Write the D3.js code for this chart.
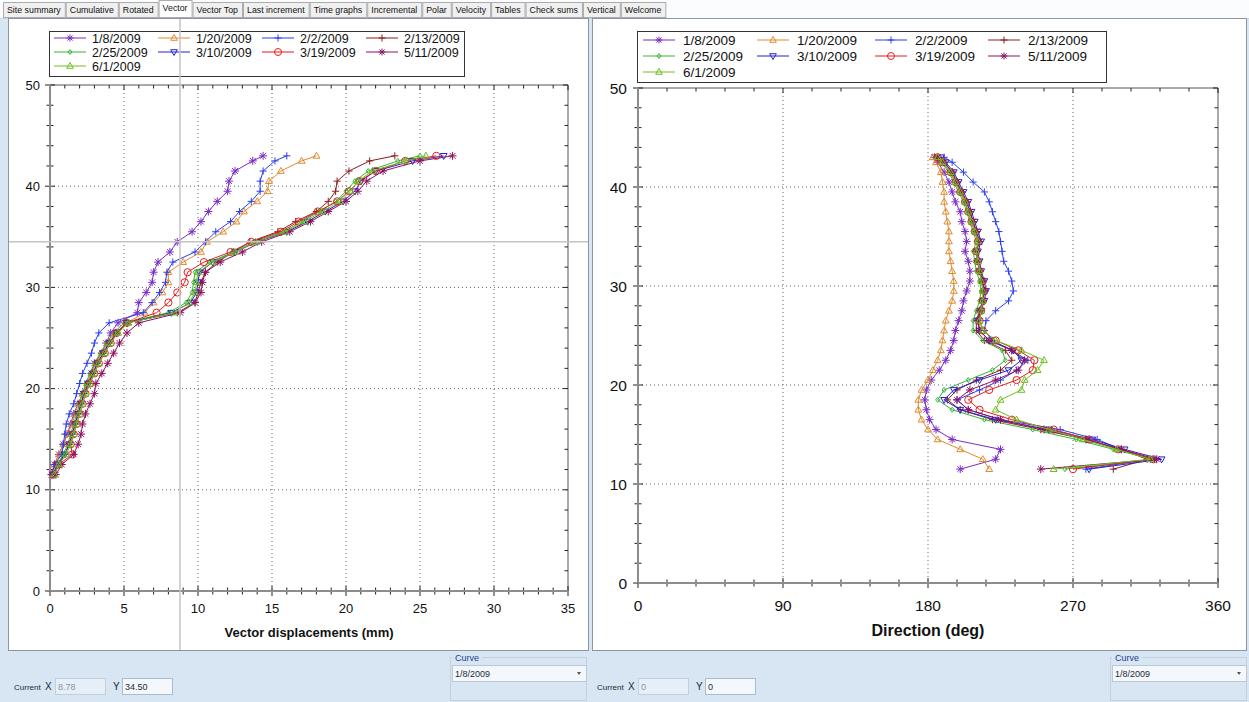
<!DOCTYPE html>
<html><head><meta charset="utf-8">
<script src="https://cdn.jsdelivr.net/npm/d3@7"></script>
<style>
body{margin:0;background:#d8e5f2;}
svg{display:block;font-family:"Liberation Sans",Arial,sans-serif;}
</style>
</head><body>
<svg id="c" width="1249" height="702"></svg>
<script>
// ---------------- DATA ----------------
const tabLabels = ["Site summary","Cumulative","Rotated","Vector","Vector Top","Last increment","Time graphs","Incremental","Polar","Velocity","Tables","Check sums","Vertical","Welcome"];
const activeTab = "Vector";
const seriesNames = ["1/8/2009","1/20/2009","2/2/2009","2/13/2009","2/25/2009","3/10/2009","3/19/2009","5/11/2009","6/1/2009"];
const seriesColors = ["#7b2cc4","#e2892c","#2b3ff0","#8b1e1e","#33b533","#2222d0","#e81c1c","#8e1262","#6cbf1c"];
const seriesMarkers = ["asterisk","triUp","plus","plus","diamond","triDown","circle","asterisk","triUp"];
const depths = [11.5,12.5,13.5,14.5,15.5,16.5,17.5,18.5,19.5,20.5,21.5,22.5,23.5,24.5,25.5,26.5,27.5,28.5,29.5,30.5,31.5,32.5,33.5,34.5,35.5,36.5,37.5,38.5,39.5,40.5,41.5,42.5,43];

// vector displacements (mm)
const disp_0108 = [0.1,0.3,0.6,0.9,1.15,1.4,1.6,1.9,2.2,2.5,2.8,3.0,3.5,3.8,4.1,4.6,5.9,6.0,6.5,6.9,7.0,7.3,8.1,8.6,9.6,10.2,10.7,11.3,12.0,12.1,12.5,13.7,14.4];
const disp_0120 = [0.2,0.3,0.6,0.9,1.2,1.5,1.7,1.9,2.2,2.5,2.8,3.1,3.5,3.9,4.4,5.2,6.4,7.0,7.6,8.0,8.0,9.0,10.2,10.6,11.7,12.6,13.1,14.0,14.7,14.8,15.6,17.0,18.0];
const disp_0202 = [0.1,0.3,0.8,0.9,1.0,1.1,1.3,1.6,1.8,2.0,2.2,2.5,2.8,3.0,3.3,4.0,6.3,6.9,7.4,7.8,7.9,8.3,9.8,10.5,11.2,12.2,12.8,13.6,14.2,14.2,14.4,15.2,16.0];
const disp_0213 = [0.3,0.6,1.0,1.3,1.5,1.7,1.9,2.1,2.3,2.6,2.9,3.2,3.6,4.0,4.5,5.2,8.6,9.8,10.0,10.2,10.5,11.3,12.4,13.5,15.4,16.6,18.0,18.8,19.3,19.4,20.2,21.6,23.3];
const disp_0225 = [0.2,0.5,0.9,1.2,1.4,1.6,1.8,2.0,2.2,2.4,2.7,3.0,3.4,3.8,4.3,5.0,8.0,9.2,9.6,9.7,9.8,10.8,12.4,13.8,15.8,17.0,18.2,19.3,20.0,20.6,21.5,23.5,25.0];
const disp_0310 = [0.2,0.5,1.0,1.3,1.5,1.7,1.9,2.1,2.3,2.6,2.9,3.2,3.6,4.0,4.5,5.2,8.2,9.5,9.9,10.0,10.1,11.0,12.5,14.0,16.0,17.4,18.6,19.8,20.6,21.0,22.0,24.5,26.6];
const disp_0319 = [0.2,0.6,1.5,1.4,1.6,1.8,2.0,2.2,2.4,2.7,3.0,3.3,3.7,4.1,4.5,5.2,7.2,8.0,8.6,9.1,9.3,10.4,12.2,13.6,15.6,16.8,18.1,19.4,20.2,20.9,22.0,24.0,26.1];
const disp_0511 = [0.4,0.8,1.6,1.9,2.1,2.2,2.4,2.7,3.0,3.1,3.5,3.9,4.3,4.7,5.2,6.0,8.8,9.8,10.2,10.3,10.5,11.5,13.0,14.3,16.2,17.6,18.8,20.0,20.8,21.4,22.5,25.0,27.2];
const disp_0601 = [0.3,0.6,1.1,1.4,1.6,1.8,2.0,2.2,2.4,2.7,3.0,3.3,3.7,4.1,4.6,5.3,8.4,9.4,9.8,9.9,10.0,11.0,12.5,13.9,15.9,17.2,18.4,19.6,20.3,20.8,21.8,24.0,25.4];

// direction (deg)
const dir_0108 = [200,222,225,195,185,181,179,178,179,182,187,191,194,196,197,199,201,202,204,206,206,205,203,204,203,201,200,197,195,193,190,186,184];
const dir_0120 = [218,214,200,186,180,176,174,174,176,180,183,186,188,189,190,191,193,195,196,196,195,194,193,193,193,192,191,190,190,189,188,185,183];
const dir_0202 = [278,318,300,285,262,225,205,198,212,225,235,242,232,220,215,216,222,230,233,232,230,227,226,225,224,222,220,218,215,208,202,195,190];
const dir_0213 = [295,316,300,278,250,220,200,192,198,210,225,232,228,215,210,210,212,214,215,214,212,211,210,212,210,208,206,204,201,198,195,190,186];
const dir_0225 = [265,320,295,272,245,215,195,186,190,205,220,228,226,214,208,208,210,212,213,212,210,209,208,210,208,206,204,202,199,196,193,188,185];
const dir_0310 = [280,325,302,282,255,222,200,190,196,212,230,238,233,218,212,211,213,215,216,215,213,212,211,213,211,209,207,205,202,199,196,191,188];
const dir_0319 = [270,320,298,280,258,232,212,205,218,235,245,246,236,222,214,212,213,214,215,214,212,211,210,211,209,207,205,203,200,197,194,189,186];
const dir_0511 = [250,322,300,278,252,225,205,198,206,222,236,240,232,218,212,211,212,214,215,214,212,211,210,212,210,208,206,204,201,198,195,190,186];
const dir_0601 = [258,318,297,276,255,235,222,225,238,240,248,252,238,222,214,212,213,214,214,213,212,211,210,211,209,207,205,203,200,197,194,189,186];

const dispSeries = [disp_0108,disp_0120,disp_0202,disp_0213,disp_0225,disp_0310,disp_0319,disp_0511,disp_0601];
const dirSeries  = [dir_0108,dir_0120,dir_0202,dir_0213,dir_0225,dir_0310,dir_0319,dir_0511,dir_0601];

const dispTicks = [0,5,10,15,20,25,30,35];
const dirTicks = [0,90,180,270,360];
const depthTicks = [0,10,20,30,40,50];
const cursorLeft = {x: 8.78, y: 34.50};
const cursorRight = {x: 0, y: 0};
const curveSelected = "1/8/2009";

// ---------------- DRAW ----------------
const svg = d3.select("#c");
const W = 1249, H = 702;
svg.append("rect").attr("width",W).attr("height",H).attr("fill","#d8e5f2");

// tab strip
svg.append("rect").attr("x",0).attr("y",0).attr("width",W).attr("height",18).attr("fill","#fbfcfe");
const tabG = svg.append("g");
let tx = 3;
tabLabels.forEach(lbl => {
  const t = tabG.append("text").attr("font-size",8.8).attr("fill","#111").text(lbl);
  const w = t.node().getComputedTextLength() + 8;
  const act = lbl === activeTab;
  tabG.insert("rect","text").attr("x",tx+0.5).attr("y",act?0.5:2.5).attr("width",w).attr("height",act?17:15)
    .attr("fill",act?"#ffffff":"#f0f0f0").attr("stroke","#acacac");
  t.attr("x",tx+4).attr("y",act?11:13);
  tx += w + 1;
});
svg.append("line").attr("x1",0).attr("x2",W).attr("y1",18.5).attr("y2",18.5).attr("stroke","#c8d4e0");

// panels
svg.append("rect").attr("x",8.5).attr("y",18.5).attr("width",580).attr("height",632).attr("fill","#fff").attr("stroke","#8a96a3");
svg.append("rect").attr("x",592.5).attr("y",18.5).attr("width",654).attr("height",632).attr("fill","#fff").attr("stroke","#8a96a3");

function marker(type, r){
  const k = r*0.72;
  switch(type){
    case "asterisk": return `M${-r},0L${r},0M0,${-r}L0,${r}M${-k},${-k}L${k},${k}M${-k},${k}L${k},${-k}`;
    case "plus": return `M${-r},0L${r},0M0,${-r}L0,${r}`;
    case "triUp": return `M0,${-r}L${r*0.95},${r*0.65}L${-r*0.95},${r*0.65}Z`;
    case "triDown": return `M0,${r}L${r*0.95},${-r*0.65}L${-r*0.95},${-r*0.65}Z`;
    case "diamond": return `M0,${-r*0.7}L${r*0.55},0L0,${r*0.7}L${-r*0.55},0Z`;
    case "circle": return `M${r},0A${r},${r} 0 1,1 ${-r},0A${r},${r} 0 1,1 ${r},0Z`;
  }
}

function drawChart(cfg){
  const g = svg.append("g");
  const x = d3.scaleLinear().domain(cfg.xDomain).range([cfg.left, cfg.right]);
  const y = d3.scaleLinear().domain([0,50]).range([cfg.bottom, cfg.top]);
  // grid
  cfg.xTicks.slice(1,-1).forEach(v => g.append("line").attr("x1",x(v)).attr("x2",x(v)).attr("y1",cfg.top).attr("y2",cfg.bottom)
    .attr("stroke","#666").attr("stroke-dasharray","1,3"));
  depthTicks.slice(1,-1).forEach(v => g.append("line").attr("y1",y(v)).attr("y2",y(v)).attr("x1",cfg.left).attr("x2",cfg.right)
    .attr("stroke","#666").attr("stroke-dasharray","1,3"));
  // frame
  g.append("line").attr("x1",cfg.left).attr("x2",cfg.right).attr("y1",cfg.top).attr("y2",cfg.top).attr("stroke","#555");
  g.append("line").attr("x1",cfg.right).attr("x2",cfg.right).attr("y1",cfg.top).attr("y2",cfg.bottom).attr("stroke","#555");
  // minor + major ticks
  const xMinor = d3.range(cfg.xDomain[0], cfg.xDomain[1]+1e-9, cfg.xMinorStep);
  const yMinor = d3.range(0, 50+1e-9, 2);
  xMinor.forEach(v => {
    const maj = cfg.xTicks.some(t => Math.abs(t-v)<1e-6);
    const L = maj?5:3.5;
    g.append("line").attr("x1",x(v)).attr("x2",x(v)).attr("y1",cfg.bottom-L).attr("y2",cfg.bottom+L).attr("stroke","#222");
    g.append("line").attr("x1",x(v)).attr("x2",x(v)).attr("y1",cfg.top).attr("y2",cfg.top+L).attr("stroke","#222");
  });
  yMinor.forEach(v => {
    const maj = depthTicks.includes(v);
    const L = maj?5:3.5;
    g.append("line").attr("y1",y(v)).attr("y2",y(v)).attr("x1",cfg.left-L).attr("x2",cfg.left+L).attr("stroke","#222");
    g.append("line").attr("y1",y(v)).attr("y2",y(v)).attr("x1",cfg.right-L).attr("x2",cfg.right).attr("stroke","#222");
  });
  // axis lines
  g.append("line").attr("x1",cfg.left).attr("x2",cfg.right).attr("y1",cfg.bottom).attr("y2",cfg.bottom).attr("stroke","#8c8c8c").attr("stroke-width",2);
  g.append("line").attr("x1",cfg.left).attr("x2",cfg.left).attr("y1",cfg.top).attr("y2",cfg.bottom).attr("stroke","#8c8c8c").attr("stroke-width",2);
  // tick labels
  cfg.xTicks.forEach(v => g.append("text").attr("x",x(v)).attr("y",cfg.bottom+cfg.xLabelDy).attr("text-anchor","middle")
    .attr("font-size",cfg.tickFont).attr("fill","#111").text(v));
  depthTicks.forEach(v => g.append("text").attr("x",cfg.left-cfg.yLabelDx).attr("y",y(v)+cfg.tickFont*0.36).attr("text-anchor","end")
    .attr("font-size",cfg.tickFont).attr("fill","#111").text(v));
  g.append("text").attr("x",(cfg.left+cfg.right)/2).attr("y",cfg.titleY).attr("text-anchor","middle")
    .attr("font-size",cfg.titleFont).attr("font-weight","bold").attr("fill","#111").text(cfg.title);
  // series
  const line = d3.line().x(d=>x(d[0])).y(d=>y(d[1]));
  cfg.series.forEach((vals,i) => {
    const pts = vals.map((v,j)=>[v,depths[j]]);
    const sg = g.append("g");
    sg.append("path").attr("d",line(pts)).attr("fill","none").attr("stroke",seriesColors[i]).attr("stroke-width",1);
    sg.selectAll("path.m").data(pts).join("path").attr("class","m")
      .attr("transform",d=>`translate(${x(d[0])},${y(d[1])})`)
      .attr("d",marker(seriesMarkers[i], seriesMarkers[i]==="asterisk"?4:3.6))
      .attr("fill","none").attr("stroke",seriesColors[i]).attr("stroke-width",1);
  });
  // legend
  const lg = cfg.legend;
  g.append("rect").attr("x",lg.x+0.5).attr("y",lg.y+0.5).attr("width",lg.w).attr("height",lg.h).attr("fill","#fff").attr("stroke","#333");
  seriesNames.forEach((nm,i) => {
    const c = i%4, r = Math.floor(i/4);
    const lx = lg.cols[c], ly = lg.rows[r];
    g.append("line").attr("x1",lx).attr("x2",lx+lg.len).attr("y1",ly).attr("y2",ly).attr("stroke",seriesColors[i]);
    g.append("path").attr("transform",`translate(${lx+lg.len/2},${ly})`).attr("d",marker(seriesMarkers[i],3.5))
      .attr("fill","none").attr("stroke",seriesColors[i]);
    g.append("text").attr("x",lx+lg.len+lg.gap).attr("y",ly+lg.font*0.36).attr("font-size",lg.font).attr("fill","#111").text(nm);
  });
  return {x,y};
}

const L = drawChart({
  left:50, right:568, top:85, bottom:591, xDomain:[0,35], xTicks:dispTicks, xMinorStep:1,
  tickFont:13, xLabelDy:22, yLabelDx:10, title:"Vector displacements (mm)", titleFont:13, titleY:637,
  series:dispSeries,
  legend:{x:49,y:31,w:415,h:45,cols:[54,158,262,366],rows:[38,52,66],len:32,gap:6,font:12.5}
});
const R = drawChart({
  left:638, right:1218, top:88, bottom:583, xDomain:[0,360], xTicks:dirTicks, xMinorStep:18,
  tickFont:15.5, xLabelDy:28, yLabelDx:11, title:"Direction (deg)", titleFont:16, titleY:636,
  series:dirSeries,
  legend:{x:637,y:31,w:469,h:51,cols:[643,757,875,988],rows:[40,56,72],len:32,gap:8,font:13.5}
});

// crosshair on left chart
svg.append("line").attr("x1",L.x(cursorLeft.x)).attr("x2",L.x(cursorLeft.x)).attr("y1",19).attr("y2",650).attr("stroke","#c4c4c4").attr("stroke-width",1.5);
svg.append("line").attr("y1",L.y(cursorLeft.y)).attr("y2",L.y(cursorLeft.y)).attr("x1",9).attr("x2",588).attr("stroke","#c4c4c4").attr("stroke-width",1.5);

// bottom controls
function controls(ox, cx, curX, curY){
  const g = svg.append("g").attr("font-size",9).attr("fill","#1a2a3a");
  g.append("text").attr("x",ox).attr("y",690).attr("font-size",8).text("Current");
  g.append("text").attr("x",ox+31).attr("y",690).attr("font-size",10).text("X");
  g.append("rect").attr("x",ox+41.5).attr("y",678.5).attr("width",50).attr("height",16).attr("fill","#e6eef8").attr("stroke","#c2cfdd");
  g.append("text").attr("x",ox+44).attr("y",690).attr("fill","#8a95a2").text(curX);
  g.append("text").attr("x",ox+99).attr("y",690).attr("font-size",10).text("Y");
  g.append("rect").attr("x",ox+108.5).attr("y",678.5).attr("width",50).attr("height",16).attr("fill","#f4f8fc").attr("stroke","#a9bdd2");
  g.append("text").attr("x",ox+111).attr("y",690).text(curY);
  g.append("rect").attr("x",cx+0.5).attr("y",657.5).attr("width",136).attr("height",43).attr("fill","none").attr("stroke","#c4d0dc");
  g.append("rect").attr("x",cx+2).attr("y",651).attr("width",30).attr("height",12).attr("fill","#d8e5f2");
  g.append("text").attr("x",cx+5).attr("y",661).attr("fill","#1d3f8a").text("Curve");
  g.append("rect").attr("x",cx+2.5).attr("y",665.5).attr("width",134).attr("height",16).attr("fill","#f4f8fc").attr("stroke","#b8c8d8");
  g.append("text").attr("x",cx+5).attr("y",677).text(curveSelected);
  g.append("path").attr("d",`M${cx+127},${672}l4,0l-2,3z`).attr("fill","#555");
}
controls(14, 450, cursorLeft.x.toFixed(2), cursorLeft.y.toFixed(2));
controls(597, 1110, String(cursorRight.x), String(cursorRight.y));
</script>
</body></html>
